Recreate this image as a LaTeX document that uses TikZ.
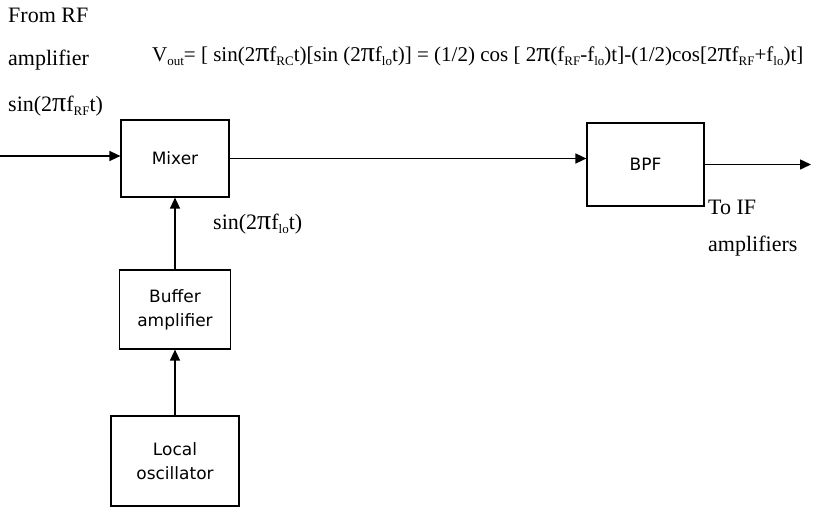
\documentclass[tikz,border=0pt]{standalone}
\usepackage{fontspec}
\setmainfont{Liberation Serif}
\newfontfamily\boxfont{DejaVu Sans}
\usetikzlibrary{arrows.meta}
\newcommand{\lsub}[1]{\raisebox{-0.4ex}{\fontsize{13}{13}\selectfont #1}}
\newcommand{\bigpi}{{\fontsize{28}{28}\selectfont π}}
\tikzset{
  blk/.style={draw, line width=1.2pt, rectangle, align=center, inner sep=0pt,
    font=\boxfont\fontsize{17}{24}\selectfont},
  lbl/.style={anchor=west, inner sep=0pt, font=\fontsize{22}{22}\selectfont},
  arr/.style={line width=1.5pt, -{Triangle[length=11pt,width=10pt]}}
}
\begin{document}
\begin{tikzpicture}[x=1pt,y=-1pt]
\useasboundingbox (0,0) rectangle (813,508);
\node[blk, minimum width=108pt, minimum height=77pt] (mixer) at (175,158.5) {Mixer};
\node[blk, minimum width=117pt, minimum height=83pt] (bpf) at (645.5,164.5) {BPF};
\node[blk, minimum width=111pt, minimum height=79pt] (buf) at (175,309.5) {Buffer\\amplifier};
\node[blk, minimum width=128pt, minimum height=90pt] (lo) at (175,461) {Local\\oscillator};
\coordinate (in) at (0,156);
\coordinate (out) at (811,164.5);
\draw[arr] (in) -- (in -| mixer.west);
\draw[arr] (mixer.east) -- (mixer.east -| bpf.west);
\draw[arr] (bpf.east) -- (out);
\draw[arr] (buf.north) -- (mixer.south);
\draw[arr] (lo.north) -- (buf.south);
\node[lbl] (from) at (8,15) {From RF};
\node[lbl] (amp) at (8,60) {amplifier};
\node[lbl] (rf) at (8,106) {sin(2\bigpi f\lsub{RF}t)};
\node[lbl] (lof) at (213,224) {sin(2\bigpi f\lsub{lo}t)};
\node[lbl] (toif) at (708,207) {To IF};
\node[lbl] (ifamp) at (708,246) {amplifiers};
\node[lbl, font=\fontsize{21}{21}\selectfont] (eq) at (152,56) {V\lsub{out}= [ sin(2\bigpi f\lsub{RC}t)[sin (2\bigpi f\lsub{lo}t)] = (1/2) cos [ 2\bigpi(f\lsub{RF}-f\lsub{lo})t]-(1/2)cos[2\bigpi f\lsub{RF}+f\lsub{lo})t]};
\end{tikzpicture}
\end{document}
